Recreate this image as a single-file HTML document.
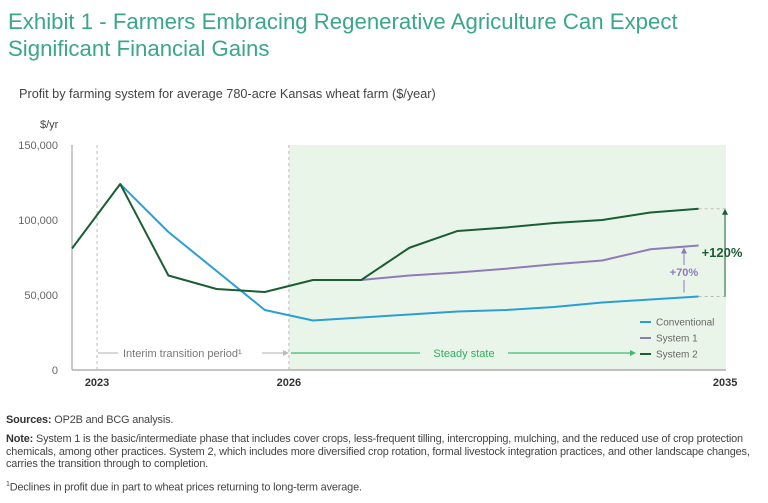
<!DOCTYPE html>
<html><head><meta charset="utf-8"><style>
body{margin:0;width:768px;height:503px;background:#fff;font-family:"Liberation Sans",sans-serif;overflow:hidden;position:relative}
#title{position:absolute;left:8px;top:8px;font-size:22.2px;line-height:27px;color:#3aa68b;margin:0;font-weight:normal;letter-spacing:0}
#sub{position:absolute;left:19px;top:87px;font-size:12.7px;color:#444}
.fn{position:absolute;left:6px;font-size:10.9px;line-height:12.5px;color:#444;width:755px;letter-spacing:-0.15px}
.fn b{color:#333}
svg{position:absolute;left:0;top:0}
</style></head><body>
<h1 id="title">Exhibit 1 - Farmers Embracing Regenerative Agriculture Can Expect<br>Significant Financial Gains</h1>
<div id="sub">Profit by farming system for average 780-acre Kansas wheat farm ($/year)</div>
<svg id="chart" width="768" height="400"></svg>
<div class="fn" style="top:414px"><b>Sources:</b> OP2B and BCG analysis.</div>
<div class="fn" style="top:433px"><b>Note:</b> System 1 is the basic/intermediate phase that includes cover crops, less-frequent tilling, intercropping, mulching, and the reduced use of crop protection chemicals, among other practices. System 2, which includes more diversified crop rotation, formal livestock integration practices, and other landscape changes, carries the transition through to completion.</div>
<div class="fn" style="top:479px"><sup style="font-size:7px">1</sup>Declines in profit due in part to wheat prices returning to long-term average.</div>
<script>
const conventional=[null,124000,92000,66000,40000,33000,35000,37000,39000,40000,42000,45000,47000,49000];
const system1=[null,null,null,null,null,null,60000,63000,65000,67500,70500,73000,80500,83000];
const system2=[81000,124000,63000,54000,52000,60000,60000,81500,92700,95000,98000,100000,105000,107500];
const yTicks=[0,50000,100000,150000];
const yTickLabels=["0","50,000","100,000","150,000"];
const yearLabels=["2023","2026","2035"];
const yearPos=[0.52,4.5,13.55];
const NS="http://www.w3.org/2000/svg";
const svg=document.getElementById('chart');
const XR=726;
const x=i=>72+i*48.2;
const y=v=>370-v/150000*225;
function mk(t,a,p){const e=document.createElementNS(NS,t);for(const k in a)e.setAttribute(k,a[k]);(p||svg).appendChild(e);return e;}
let bg=mk('rect',{x:x(4.5),y:y(150000),width:XR-x(4.5),height:225,fill:'#eaf5ea'});


let ya=mk('line',{x1:72,y1:y(150000),x2:72,y2:370,stroke:'#999','stroke-width':1});


let xa=mk('line',{x1:72,y1:370,x2:XR,y2:370,stroke:'#888','stroke-width':1});


yTicks.forEach((v,i)=>{let t=mk('text',{x:58,y:y(v)+4,'text-anchor':'end','font-size':11,fill:'#666'});t.textContent=yTickLabels[i];

});
let yt=mk('text',{x:40,y:128,'font-size':11,fill:'#444'});yt.textContent='$/yr';


yearLabels.forEach((l,i)=>{let t=mk('text',{x:x(yearPos[i]),y:386,'text-anchor':'middle','font-size':11,'font-weight':'bold',fill:'#333'});t.textContent=l;

});
[0.52,4.5].forEach(p=>{let l=mk('line',{x1:x(p),y1:y(150000),x2:x(p),y2:370,stroke:'#bbb','stroke-dasharray':'3,3'});

});
function series(d,c,n){let pts=[];d.forEach((v,i)=>{if(v!==null)pts.push(x(i)+','+y(v));});
let p=mk('polyline',{points:pts.join(' '),fill:'none',stroke:c,'stroke-width':2,'stroke-linejoin':'round'});

}
series(conventional,'#2a9fd6','conventional-line');
series(system1,'#8f7bb8','system1-line');
series(system2,'#1b5e33','system2-line');
const xe=x(13);
mk('line',{x1:xe,y1:y(system2[13]),x2:XR,y2:y(system2[13]),stroke:'#bbb','stroke-dasharray':'3,3'});
mk('line',{x1:xe,y1:y(conventional[13]),x2:XR,y2:y(conventional[13]),stroke:'#bbb','stroke-dasharray':'3,3'});
mk('line',{x1:XR-1,y1:y(conventional[13]),x2:XR-1,y2:y(system2[13])+5,stroke:'#1b5e33','stroke-width':1});
mk('polygon',{points:`${XR-4},${y(system2[13])+6} ${XR+2},${y(system2[13])+6} ${XR-1},${y(system2[13])}`,fill:'#1b5e33'});
let a2=mk('text',{x:722,y:257,'text-anchor':'middle','font-size':13,'font-weight':'bold',fill:'#1b5e33'});a2.textContent='+120%';


mk('line',{x1:684,y1:y(conventional[13])-4,x2:684,y2:y(60000),stroke:'#8f7bb8'});
mk('line',{x1:684,y1:y(70000),x2:684,y2:y(system1[13])+8,stroke:'#8f7bb8'});
mk('polygon',{points:`681,${y(system1[13])+8} 687,${y(system1[13])+8} 684,${y(system1[13])+2}`,fill:'#8f7bb8'});
let a1=mk('text',{x:684,y:276,'text-anchor':'middle','font-size':11,'font-weight':'bold',fill:'#8f7bb8'});a1.textContent='+70%';


mk('line',{x1:98,y1:353,x2:118,y2:353,stroke:'#ccc','stroke-width':1.5});
let ip=mk('text',{x:123,y:357,'font-size':11,fill:'#777'});ip.textContent='Interim transition period¹';


mk('line',{x1:262,y1:353,x2:285,y2:353,stroke:'#ccc','stroke-width':1.5});
mk('polygon',{points:'283,350 289,353 283,356',fill:'#bbb'});
mk('line',{x1:291,y1:353,x2:420,y2:353,stroke:'#3fba6e','stroke-width':1.2});
let ss=mk('text',{x:464,y:357,'text-anchor':'middle','font-size':11,fill:'#2fae5e'});ss.textContent='Steady state';


mk('line',{x1:508,y1:353,x2:632,y2:353,stroke:'#3fba6e','stroke-width':1.2});
mk('polygon',{points:'630,350 636,353 630,356',fill:'#3fba6e'});
[['Conventional','#2a9fd6'],['System 1','#8f7bb8'],['System 2','#1b5e33']].forEach((l,i)=>{
const yy=322+i*16;
mk('line',{x1:640,y1:yy,x2:651,y2:yy,stroke:l[1],'stroke-width':2});
let t=mk('text',{x:656,y:yy+3.5,'font-size':10,fill:'#666'});t.textContent=l[0];

});
</script>
</body></html>
